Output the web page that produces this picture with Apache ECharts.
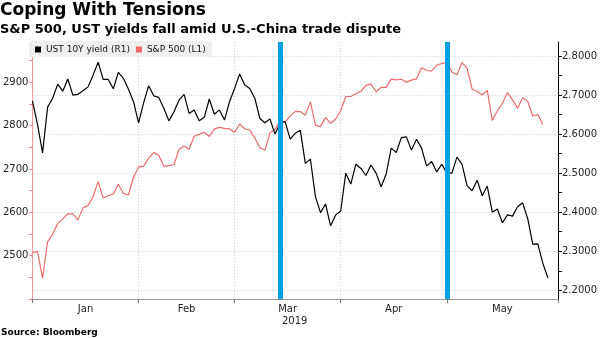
<!DOCTYPE html>
<html><head><meta charset="utf-8">
<script src="https://cdn.jsdelivr.net/npm/echarts@6/dist/echarts.min.js"></script>
<style>html,body{margin:0;padding:0;background:#fff}#c{width:600px;height:338px}</style>
</head><body><div id="c"></div>
<script>
// Trading days (day-of-month) shown on the axis
const dec18 = [31];
const jan19 = [2,3,4,7,8,9,10,11,14,15,16,17,18,22,23,24,25,28,29,30,31];
const feb19 = [1,4,5,6,7,8,11,12,13,14,15,19,20,21,22,25,26,27,28];
const mar19 = [1,4,5,6,7,8,11,12,13,14,15,18,19,20,21,22,25,26,27,28,29];
const apr19 = [1,2,3,4,5,8,9,10,11,12,15,16,17,18,22,23,24,25,26,29,30];
const may19 = [1,2,3,6,7,8,9,10,13,14,15,16,17,20,21,22,23,24,28,29,30,31];

// UST 10Y yield (right axis), from Dec 31 2018
const ust10y = [
  2.685,2.625,2.552,2.669,2.692,2.728,2.710,2.741,2.700,2.702,2.711,2.721,2.751,2.784,2.740,2.740,2.716,2.758,2.743,2.715,2.683,2.629,
  2.680,2.724,2.698,2.694,2.666,2.634,2.657,2.687,2.702,2.653,2.662,2.634,2.643,2.690,2.651,2.662,2.636,2.683,2.717,
  2.754,2.726,2.717,2.692,2.640,2.629,2.639,2.600,2.628,2.632,2.587,2.602,2.610,2.525,2.536,2.440,2.399,2.421,2.365,2.393,2.403,
  2.500,2.472,2.523,2.512,2.494,2.521,2.500,2.465,2.498,2.564,2.553,2.591,2.593,2.559,2.587,2.564,2.518,2.530,2.503,2.523,2.500,
  2.500,2.541,2.523,2.468,2.455,2.482,2.442,2.467,2.400,2.408,2.373,2.393,2.390,2.414,2.424,2.384,2.318,2.319,2.269,2.232
];
// S&P 500 (left axis), from Dec 31 2018
const spx = [
  2506.85,
  2510.03,2447.89,2531.94,2549.69,2574.41,2584.96,2596.64,2596.26,2582.61,2610.30,2616.10,2635.96,2670.71,2632.90,2638.70,2642.33,2664.76,2643.85,2640.00,2681.05,2704.10,
  2706.53,2724.87,2737.70,2731.61,2706.05,2707.88,2709.80,2744.73,2753.03,2745.73,2775.60,2779.76,2784.70,2774.88,2792.67,2796.11,2793.90,2792.38,2784.49,
  2803.69,2792.81,2789.65,2771.45,2748.93,2743.07,2783.30,2791.52,2810.92,2808.48,2822.48,2832.94,2832.57,2824.23,2854.88,2800.71,2798.36,2818.46,2805.37,2815.44,2834.40,
  2867.19,2867.24,2873.40,2879.39,2892.74,2895.77,2878.20,2888.21,2888.32,2907.41,2905.58,2907.06,2900.45,2905.03,2907.97,2933.68,2927.25,2926.17,2939.88,2943.03,2945.83,
  2923.73,2917.52,2945.64,2932.47,2884.05,2879.42,2870.72,2881.40,2811.87,2834.41,2850.96,2876.32,2859.53,2840.23,2864.36,2856.27,2822.24,2826.06,2802.39
];

const monthLabels = ['Jan','Feb','Mar','Apr','May'];
const yearLabel = '2019';
const leftTicks = [2400,2450,2500,2550,2600,2650,2700,2750,2800,2850,2900,2950];
const leftLabels = [2500,2600,2700,2800,2900];
const rightTicks = [2.2,2.25,2.3,2.35,2.4,2.45,2.5,2.55,2.6,2.65,2.7,2.75,2.8];
const rightLabels = [2.2,2.3,2.4,2.5,2.6,2.7,2.8];
const markerDates = ['2019-03-13','2019-04-30'];

const pad = n => String(n).padStart(2,'0');
const categories = [].concat(
  dec18.map(d => '2018-12-' + pad(d)),
  jan19.map(d => '2019-01-' + pad(d)),
  feb19.map(d => '2019-02-' + pad(d)),
  mar19.map(d => '2019-03-' + pad(d)),
  apr19.map(d => '2019-04-' + pad(d)),
  may19.map(d => '2019-05-' + pad(d))
);
const last = categories.length - 1;
const monthEnd = [];
categories.forEach((c, i) => {
  if (i === 0 || i === last || c.slice(0,7) !== categories[i+1].slice(0,7)) monthEnd.push(i);
});
const monthCenters = [];
for (let k = 0; k < monthEnd.length - 1; k++) monthCenters.push((monthEnd[k] + monthEnd[k+1]) / 2);

const FONT = 'DejaVu Sans';
const chart = echarts.init(document.getElementById('c'), null, {renderer: 'canvas'});
chart.setOption({
  animation: false,
  backgroundColor: '#fff',
  textStyle: {fontFamily: FONT},
  title: [
    {text: 'Coping With Tensions', left: 0, top: 2, padding: 0,
     textStyle: {fontFamily: FONT, fontWeight: 'bold', fontSize: 17, color: '#000'}},
    {text: 'S&P 500, UST yields fall amid U.S.-China trade dispute', left: 0, top: 23, padding: 0,
     textStyle: {fontFamily: FONT, fontWeight: 'bold', fontSize: 13, color: '#000'}},
    {text: 'Source: Bloomberg', left: 1, top: 328, padding: 0,
     textStyle: {fontFamily: FONT, fontWeight: 'bold', fontSize: 9, color: '#000'}}
  ],
  legend: {
    left: 29, top: 41, padding: [4, 6, 3, 6], itemGap: 6,
    icon: 'rect', itemWidth: 6, itemHeight: 6,
    backgroundColor: '#efefef',
    textStyle: {fontFamily: FONT, fontSize: 9, color: '#111'},
    data: ['UST 10Y yield (R1)', 'S&P 500 (L1)']
  },
  grid: {left: 30, right: 42, top: 42, bottom: 39, containLabel: false},
  xAxis: [
    {type: 'category', data: categories, boundaryGap: false,
     axisLine: {lineStyle: {color: '#999'}},
     axisTick: {interval: (i) => monthEnd.indexOf(i) >= 0, length: 4, lineStyle: {color: '#777'}},
     axisLabel: {show: false},
     splitLine: {show: true, interval: (i) => monthEnd.indexOf(i) > 0 && i !== last,
       lineStyle: {color: '#d0d0d0', type: [1, 2]}}},
    {type: 'value', min: 0, max: last, position: 'bottom',
     axisLine: {show: false}, axisTick: {show: false}, splitLine: {show: false},
     axisLabel: {customValues: monthCenters, margin: 4, fontSize: 10, color: '#222', fontFamily: FONT, lineHeight: 12,
       formatter: (v) => {
         const k = monthCenters.findIndex(c => Math.abs(c - v) < 0.01);
         const m = monthLabels[k] || '';
         return m === 'Mar' ? '{m|' + m + '}\n{y|' + yearLabel + '}' : m;
       },
       rich: {m: {fontSize: 10, fontFamily: FONT, color: '#222', lineHeight: 12},
              y: {fontSize: 10, fontFamily: FONT, color: '#222', lineHeight: 12, padding: [0, 0, 0, 14]}}}}
  ],
  yAxis: [
    {type: 'value', position: 'left', min: 2400, max: 2993,
     axisLine: {show: true, lineStyle: {color: '#f29a9a'}},
     axisTick: {show: true, customValues: leftTicks, length: 3, lineStyle: {color: '#f08080'}},
     axisLabel: {customValues: leftLabels, margin: 4, fontSize: 10, color: '#222', fontFamily: FONT,
       formatter: (v) => String(v)},
     splitLine: {show: false}},
    {type: 'value', position: 'right', min: 2.1777, max: 2.8359,
     axisLine: {show: true, lineStyle: {color: '#000'}},
     axisTick: {show: true, customValues: rightTicks, length: 4, lineStyle: {color: '#000'}},
     axisLabel: {customValues: rightLabels, margin: 4, fontSize: 10, color: '#222', fontFamily: FONT,
       formatter: (v) => v.toFixed(4)},
     splitLine: {show: true, lineStyle: {color: ['#cfcfcf', 'rgba(0,0,0,0)'], type: [1, 2]}}}
  ],
  series: [
    {name: 'UST 10Y yield (R1)', type: 'line', yAxisIndex: 1, data: ust10y,
     symbol: 'none', showSymbol: false, z: 3,
     lineStyle: {color: '#000', width: 1.2}, itemStyle: {color: '#000'},
     markLine: {silent: true, symbol: 'none', z: 6, label: {show: false},
       lineStyle: {color: '#00a0e6', width: 5, type: 'solid'},
       data: markerDates.map(d => ({xAxis: d}))}},
    {name: 'S&P 500 (L1)', type: 'line', yAxisIndex: 0, data: spx,
     symbol: 'none', showSymbol: false, z: 2,
     lineStyle: {color: '#ee6b6b', width: 1.2}, itemStyle: {color: '#f06868'}}
  ]
});
</script></body></html>
